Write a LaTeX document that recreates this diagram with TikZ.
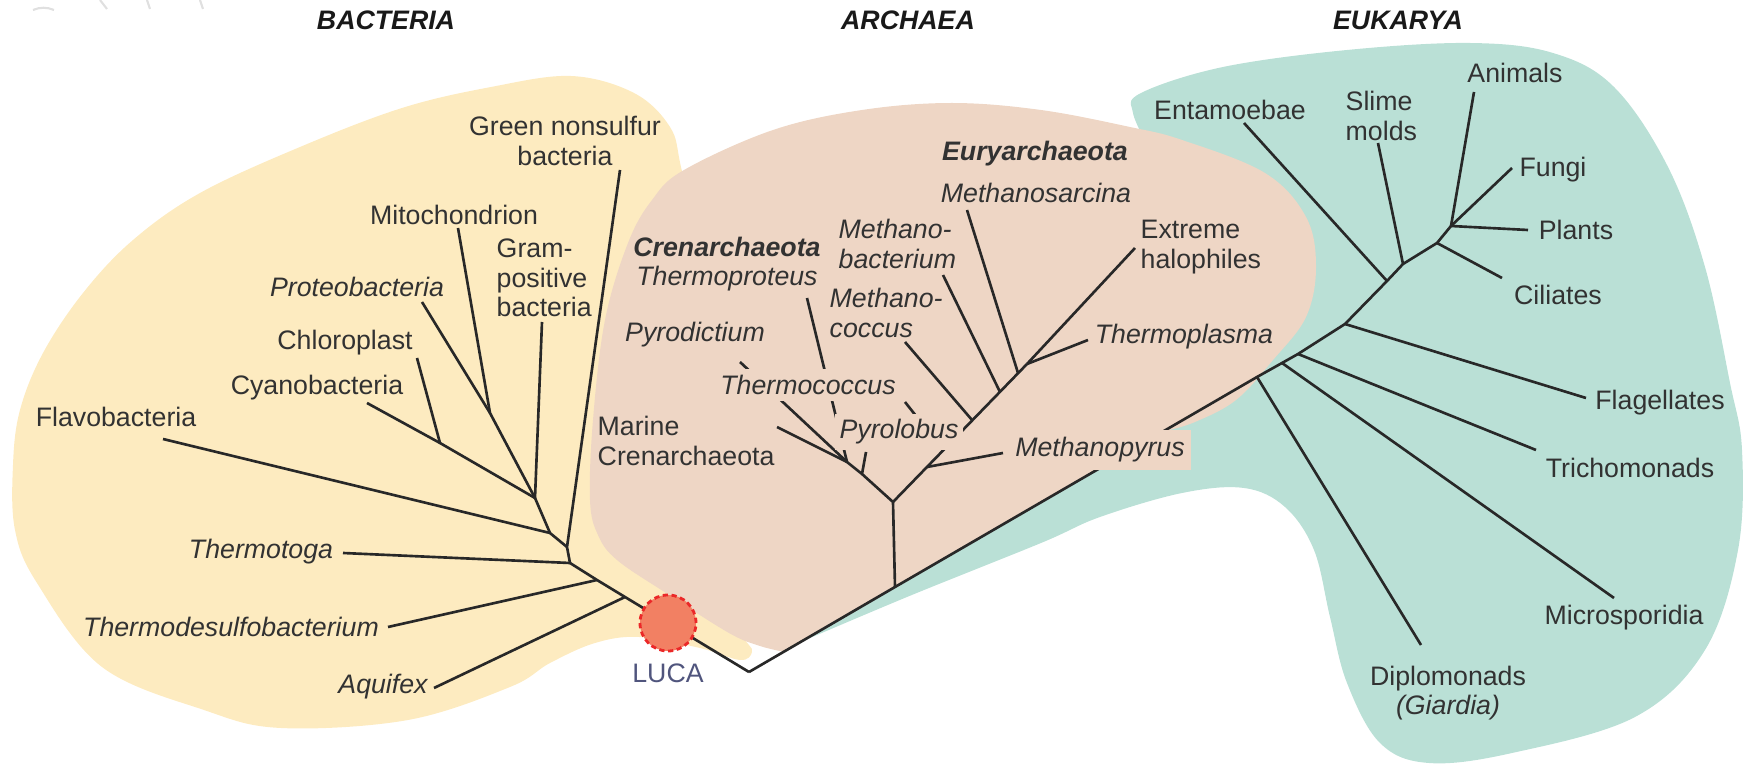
\documentclass[tikz,border=0pt]{standalone}
\usepackage{fontspec}
\setmainfont{Liberation Sans}
\definecolor{bactc}{RGB}{253,235,192}
\definecolor{archc}{RGB}{238,214,197}
\definecolor{eukc}{RGB}{186,224,214}
\definecolor{lucac}{RGB}{242,128,99}
\definecolor{lucar}{RGB}{235,40,40}
\definecolor{lucat}{RGB}{80,85,125}
\definecolor{txt}{RGB}{50,50,50}
\definecolor{branch}{RGB}{40,40,40}
\begin{document}
\begin{tikzpicture}[x=0.01cm, y=-0.01cm,
  lab/.style={font=\fontsize{7.6}{8.4}\selectfont, text=txt, inner sep=0pt},
  ilab/.style={lab, font=\fontsize{7.6}{8.4}\selectfont\itshape},
  ttl/.style={font=\fontsize{7.6}{8.4}\selectfont\bfseries\itshape, text=black!90, inner sep=0pt},
  br/.style={draw=branch, line width=0.75pt},
  labbox/.style={ilab, fill=archc, inner sep=0pt},
  lucadot/.style={circle, fill=lucac, draw=lucar, line width=0.8pt, dash pattern=on 1.5pt off 1pt, minimum size=0.56cm, inner sep=0pt}]
\useasboundingbox (0,0) rectangle (1745,764);

\draw[black!12, line width=0.6pt] (33,10) .. controls (40,7) and (47,7) .. (54,10);
\draw[black!12, line width=0.6pt] (100,0) -- (107,9) (147,0) -- (150,9) (200,0) -- (203,9);

\fill[bactc] plot[smooth cycle, tension=0.6] coordinates {(571,76) (634,93) (670,127) (681,167) (700,260) (700,450) (705,590) (745,640) (752,652) (740,660) (700,648) (639,637) (595,643) (550,663) (510,687) (408,720) (281,728) (204,710) (102,667) (37,583) (15,530) (13,465) (20,410) (43,353) (83,293) (133,240) (200,193) (300,147) (402,108) (491,87)};
\fill[eukc] plot[smooth, tension=0.6] coordinates {(1150,150) (1133,113) (1141,93) (1223,67) (1347,50) (1470,43) (1553,53) (1614,87) (1668,167) (1705,267) (1730,383) (1742,450) (1738,550) (1705,650) (1635,717) (1512,753) (1429,763) (1380,743) (1347,683) (1330,617) (1314,550) (1285,507) (1244,488) (1182,493) (1100,517) (1041,543) (907,597) (782,650)} -- (1000,450) -- cycle;
\fill[archc] plot[smooth, tension=0.6] coordinates {(785,652) (760,646) (729,633) (666,593) (617,560) (598,535) (590,500) (593,420) (605,320) (628,243) (652,200) (684,170) (773,130) (862,110) (952,103) (1041,110) (1130,127) (1182,140) (1265,173) (1306,217) (1316,267) (1306,317) (1273,360) (1236,400) (1195,422) (1165,431)} -- cycle;

\coordinate (root) at (749,672);
\coordinate (jTg) at (570,563);
\coordinate (jTd) at (597,580);
\coordinate (jAq) at (625,597);
\coordinate (jG) at (567,547);
\coordinate (jF) at (550,533);
\coordinate (jP) at (535,498);
\coordinate (jMP) at (490,413);
\coordinate (jCC) at (440,443);
\coordinate (gnT) at (620,170);
\coordinate (mitT) at (458,228);
\coordinate (proT) at (422,302);
\coordinate (gpT) at (542,322);
\coordinate (chlT) at (417,358);
\coordinate (cyaT) at (367,403);
\coordinate (flaT) at (163,439);
\coordinate (thgT) at (343,553);
\coordinate (thdT) at (388,627);
\coordinate (aqT) at (434,688);

\coordinate (aS) at (895,587);
\coordinate (jAr) at (893,502);
\coordinate (cJ) at (862,474);
\coordinate (jM) at (847,462);
\coordinate (eP) at (927,467);
\coordinate (eTc) at (943,450);
\coordinate (eC) at (972,420);
\coordinate (eB) at (1000,392);
\coordinate (eS) at (1018,373);
\coordinate (eT) at (1027,364);
\coordinate (marT) at (777,427);
\coordinate (pydT) at (740,362);
\coordinate (tprT) at (807,298);
\coordinate (pylT) at (866,452);
\coordinate (tcoT) at (905,402);
\coordinate (mpyT) at (1003,453);
\coordinate (mcoT) at (905,342);
\coordinate (mbaT) at (943,275);
\coordinate (msaT) at (967,210);
\coordinate (ehT) at (1135,248);
\coordinate (tplT) at (1088,340);

\coordinate (eD) at (1257,377);
\coordinate (eM) at (1282,363);
\coordinate (eTr) at (1298,354);
\coordinate (eF) at (1345,324);
\coordinate (eEn) at (1387,281);
\coordinate (eSl) at (1403,264);
\coordinate (eCi) at (1437,243);
\coordinate (eA) at (1451,226);
\coordinate (entT) at (1244,123);
\coordinate (slmT) at (1378,143);
\coordinate (aniT) at (1474,92);
\coordinate (funT) at (1512,168);
\coordinate (plaT) at (1528,230);
\coordinate (cilT) at (1502,278);
\coordinate (flgT) at (1586,398);
\coordinate (triT) at (1536,450);
\coordinate (micT) at (1614,598);
\coordinate (dipT) at (1421,645);

\draw[br] (gnT) -- (jG) -- (jTg);
\draw[br] (mitT) -- (jMP) -- (jP) -- (jF) -- (jG);
\draw[br] (proT) -- (jMP);
\draw[br] (chlT) -- (jCC) -- (jP);
\draw[br] (cyaT) -- (jCC);
\draw[br] (gpT) -- (jP);
\draw[br] (flaT) -- (jF);
\draw[br] (thgT) -- (jTg);
\draw[br] (thdT) -- (jTd);
\draw[br] (aqT) -- (jAq);
\draw[br] (jTg) -- (jTd) -- (jAq) -- (root);

\draw[br] (root) -- (aS) -- (eD) -- (eM) -- (eTr) -- (eF) -- (eEn) -- (eSl) -- (eCi) -- (eA);
\draw[br] (aS) -- (jAr) -- (cJ) -- (jM);
\draw[br] (jAr) -- (eT);
\draw[br] (marT) -- (jM);
\draw[br] (pydT) -- (jM);
\draw[br] (tprT) -- (jM);
\draw[br] (pylT) -- (cJ);
\draw[br] (tcoT) -- (eTc);
\draw[br] (mpyT) -- (eP);
\draw[br] (mcoT) -- (eC);
\draw[br] (mbaT) -- (eB);
\draw[br] (msaT) -- (eS);
\draw[br] (ehT) -- (eT);
\draw[br] (tplT) -- (eT);

\draw[br] (entT) -- (eEn);
\draw[br] (slmT) -- (eSl);
\draw[br] (aniT) -- (eA);
\draw[br] (funT) -- (eA);
\draw[br] (plaT) -- (eA);
\draw[br] (cilT) -- (eCi);
\draw[br] (flgT) -- (eF);
\draw[br] (triT) -- (eTr);
\draw[br] (micT) -- (eM);
\draw[br] (dipT) -- (eD);

\node[lucadot] (luca) at (668,623) {};
\node[lab, text=lucat] (lucalab) at (668,673) {LUCA};

\node[ttl] (bact) at (386,20) {BACTERIA};
\node[ttl] (arch) at (908,20) {ARCHAEA};
\node[ttl] (euk) at (1398,20) {EUKARYA};

\node[lab, align=center] (gn) at (565,141) {Green nonsulfur\\bacteria};
\node[lab] (mit) at (454,215) {Mitochondrion};
\node[lab, align=left, anchor=west] (gp) at (496,278) {Gram-\\positive\\bacteria};
\node[ilab] (pro) at (357,287) {Proteobacteria};
\node[lab] (chl) at (345,343) {Chloroplast};
\node[lab] (cya) at (317,388) {Cyanobacteria};
\node[lab] (fla) at (116,417) {Flavobacteria};
\node[ilab] (thg) at (261,552) {Thermotoga};
\node[ilab] (thd) at (231,627) {Thermodesulfobacterium};
\node[ilab] (aq) at (383,687) {Aquifex};

\node[ilab] (eury) at (1035,154) {\bfseries Euryarchaeota};
\node[ilab] (msa) at (1036,193) {Methanosarcina};
\node[ilab, align=left, anchor=west] (mba) at (838,244) {Methano-\\bacterium};
\node[ilab, align=center] (cren) at (727,264) {\bfseries Crenarchaeota\\Thermoproteus};
\node[ilab, align=left, anchor=west] (mco) at (829,313) {Methano-\\coccus};
\node[lab, align=left, anchor=west] (eh) at (1140,247) {Extreme\\halophiles};
\node[ilab] (pyd) at (695,335) {Pyrodictium};
\node[ilab] (tpl) at (1184,337) {Thermoplasma};
\node[labbox, minimum width=1.82cm, minimum height=0.31cm] (tco) at (808,385) {Thermococcus};
\node[labbox, minimum width=1.28cm, minimum height=0.36cm] (pyl) at (899,432) {Pyrolobus};
\node[lab, align=left, anchor=west] (mar) at (597,441) {Marine\\Crenarchaeota};
\node[labbox, minimum width=1.81cm, minimum height=0.40cm] (mpy) at (1100,450) {Methanopyrus};

\node[lab] (ent) at (1230,110) {Entamoebae};
\node[lab, align=left, anchor=west] (slm) at (1345,116) {Slime\\molds};
\node[lab] (ani) at (1515,73) {Animals};
\node[lab] (fun) at (1553,170) {Fungi};
\node[lab] (pla) at (1576,230) {Plants};
\node[lab] (cil) at (1558,295) {Ciliates};
\node[lab] (flg) at (1660,403) {Flagellates};
\node[lab] (tri) at (1630,468) {Trichomonads};
\node[lab] (mic) at (1624,618) {Microsporidia};
\node[lab, align=center] (dip) at (1448,693) {Diplomonads\\\textit{(Giardia)}};
\end{tikzpicture}
\end{document}
